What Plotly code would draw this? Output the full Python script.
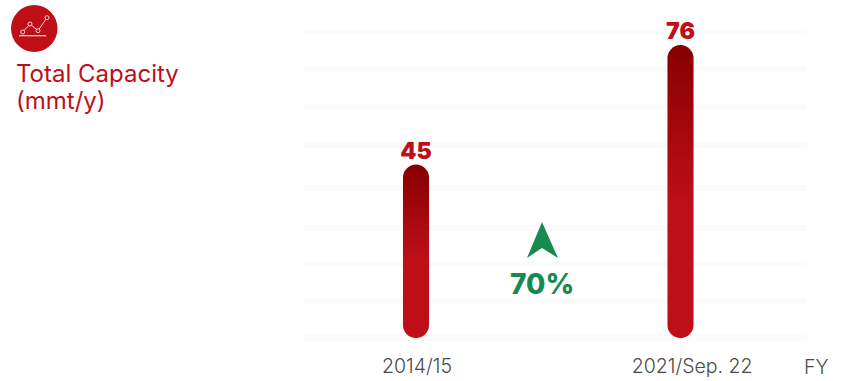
import plotly.graph_objects as go

# Data
categories = ["2014/15", "2021/Sep. 22"]
values = [45, 76]
value_labels = ["45", "76"]
grid_values = [0, 9.6, 19.2, 28.5, 38.9, 50.1, 59.9, 69.8, 79.4]
title_text = "Total Capacity<br>(mmt/y)"
change_text = "70%"
axis_unit = "FY"

W, H = 847, 381
L, R, T, B = 304, 40, 20, 39
RED = "#BE0F19"
DARK = "#870000"
GREEN = "#178A50"
FONT = "Inter, 'Open Sans', sans-serif"


def px(x):
    return (x - L) / (W - L - R)


def py(y):
    return 1 - (y - T) / (H - T - B)


fig = go.Figure(
    go.Bar(
        x=[0, 1],
        y=values,
        width=0.0985,
        marker=dict(color=RED, line=dict(width=0), cornerradius=13),
        text=value_labels,
        textposition="outside",
        constraintext="none",
        cliponaxis=False,
        textfont=dict(family=FONT, size=23, color=RED, weight=900),
        hoverinfo="skip",
    )
)

fig.update_layout(
    width=W,
    height=H,
    margin=dict(l=L, r=R, t=T, b=B, autoexpand=False),
    paper_bgcolor="white",
    plot_bgcolor="white",
    showlegend=False,
    xaxis=dict(
        range=[-0.4234, 1.4783],
        tickvals=[0.004, 1.044],
        ticktext=categories,
        automargin=False,
        showgrid=False,
        zeroline=False,
        showline=False,
        ticks="",
        ticklabelstandoff=10,
        tickfont=dict(family=FONT, size=19.5, color="#4A4A4A", weight=300),
    ),
    yaxis=dict(
        range=[-1, 82.5],
        tickvals=grid_values,
        automargin=False,
        showticklabels=False,
        showgrid=True,
        gridcolor="#FAFBFA",
        gridwidth=6,
        zeroline=False,
        showline=False,
        ticks="",
    ),
)

# Title, unit and change label
fig.add_annotation(
    xref="paper", yref="paper", x=px(13.5), y=py(57), xanchor="left", yanchor="top",
    text=title_text, showarrow=False, align="left",
    font=dict(family=FONT, size=24, color=RED, weight=400),
)
fig.add_annotation(
    xref="paper", yref="paper", x=px(816), y=py(367), xanchor="center", yanchor="middle",
    text=axis_unit, showarrow=False, font=dict(family=FONT, size=19.5, color="#4A4A4A", weight=300),
)
fig.add_annotation(
    xref="paper", yref="paper", x=px(542), y=py(284), xanchor="center", yanchor="middle",
    text=change_text, showarrow=False, font=dict(family=FONT, size=28, color=GREEN, weight=800),
)


def path(points):
    return "M " + " L ".join(f"{px(a):.5f},{py(b):.5f}" for a, b in points) + " Z"


# Green arrow
fig.add_shape(type="path", xref="paper", yref="paper", line_width=0, fillcolor=GREEN,
              path=path([(542, 222), (558, 258), (542, 248), (527, 258)]))

# Icon
fig.add_shape(type="circle", xref="paper", yref="paper", line_width=0, fillcolor=RED,
              x0=px(11), x1=px(57.5), y0=py(5), y1=py(52))
line_pts = [(22.7, 32), (30, 24), (38, 30.7), (47, 17.7)]
for (a, b), (c, d) in zip(line_pts, line_pts[1:]):
    fig.add_shape(type="line", xref="paper", yref="paper",
                  x0=px(a), y0=py(b), x1=px(c), y1=py(d), line=dict(color="#F3D6D8", width=1))
for a, b in line_pts:
    fig.add_shape(type="circle", xref="paper", yref="paper", fillcolor=RED,
                  line=dict(color="#F3D6D8", width=1),
                  x0=px(a - 2), x1=px(a + 2), y0=py(b - 2), y1=py(b + 2))
fig.add_shape(type="line", xref="paper", yref="paper",
              x0=px(19), y0=py(35.7), x1=px(46), y1=py(35.7), line=dict(color="#F3D6D8", width=1.2))

# Vertical gradient and pill ends on the library-drawn bars; tighter title leading
post = f"""
document.body.style.margin = '0';
var gd = document.getElementsByClassName('plotly-graph-div')[0];
var svg = gd.querySelector('.main-svg');
var ns = 'http://www.w3.org/2000/svg';
var grad = document.createElementNS(ns, 'linearGradient');
grad.setAttribute('id', 'barGrad');
grad.setAttribute('x1', '0'); grad.setAttribute('y1', '0');
grad.setAttribute('x2', '0'); grad.setAttribute('y2', '1');
[['0', '{DARK}'], ['0.55', '{RED}'], ['1', '{RED}']].forEach(function (s) {{
  var st = document.createElementNS(ns, 'stop');
  st.setAttribute('offset', s[0]); st.setAttribute('stop-color', s[1]);
  grad.appendChild(st);
}});
var defs = svg.querySelector('defs') || svg.insertBefore(document.createElementNS(ns, 'defs'), svg.firstChild);
defs.appendChild(grad);
gd.querySelectorAll('.bars .point path').forEach(function (p) {{
  var b = p.getBBox(), r = b.width / 2;
  p.setAttribute('d', 'M' + b.x + ',' + (b.y + r) +
    'A' + r + ',' + r + ' 0 0 1 ' + (b.x + b.width) + ',' + (b.y + r) +
    'V' + (b.y + b.height - r) +
    'A' + r + ',' + r + ' 0 0 1 ' + b.x + ',' + (b.y + b.height - r) + 'Z');
  p.style.fill = 'url(#barGrad)';
}});
gd.querySelectorAll('.bars .bartext').forEach(function (t) {{
  t.setAttribute('transform', 'translate(0,3) ' + (t.getAttribute('transform') || ''));
}});
gd.querySelectorAll('.annotation-text tspan.line').forEach(function (t) {{
  if (parseFloat(t.getAttribute('dy')) > 0) {{ t.setAttribute('dy', '1.125em'); }}
}});
"""

fig.write_html("out.html", post_script=post, config={"displayModeBar": False})
